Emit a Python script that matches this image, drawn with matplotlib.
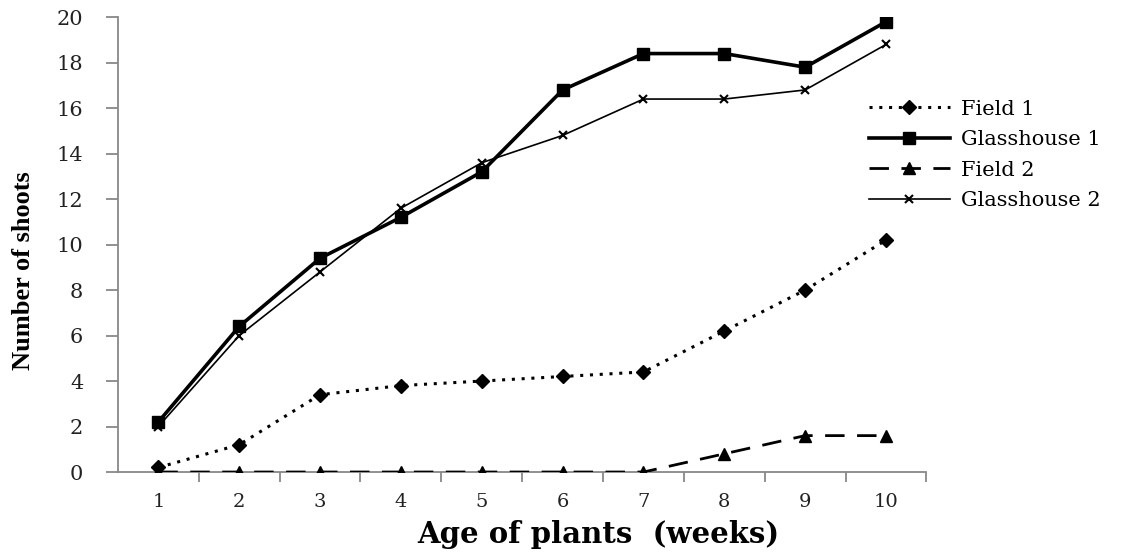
import matplotlib
matplotlib.use("Agg")
import matplotlib.pyplot as plt
from matplotlib.ticker import FixedLocator

weeks = [1, 2, 3, 4, 5, 6, 7, 8, 9, 10]
field1 = [0.2, 1.2, 3.4, 3.8, 4.0, 4.2, 4.4, 6.2, 8.0, 10.2]
glass1 = [2.2, 6.4, 9.4, 11.2, 13.2, 16.8, 18.4, 18.4, 17.8, 19.8]
field2 = [0.0, 0.0, 0.0, 0.0, 0.0, 0.0, 0.0, 0.8, 1.6, 1.6]
glass2 = [2.0, 6.0, 8.8, 11.6, 13.6, 14.8, 16.4, 16.4, 16.8, 18.8]
yticks = [0, 2, 4, 6, 8, 10, 12, 14, 16, 18, 20]

plt.rcParams['font.family'] = ['DejaVu Serif']

fig = plt.figure(figsize=(11.23, 5.54), dpi=100)
ax = fig.add_axes([0.105, 0.148, 0.72, 0.821])

ax.plot(weeks, field1, color='black', linestyle=(0, (1, 2.2)), lw=2.2,
        marker='D', markersize=7, label='Field 1', zorder=3)
ax.plot(weeks, glass1, color='black', linestyle='-', lw=2.6,
        marker='s', markersize=9, label='Glasshouse 1', zorder=4)
ax.plot(weeks, field2, color='black', linestyle=(0, (7, 4.5)), lw=2.0,
        marker='^', markersize=9, label='Field 2', zorder=3)
ax.plot(weeks, glass2, color='black', linestyle='-', lw=1.2,
        marker='x', markersize=6, markeredgewidth=1.5, label='Glasshouse 2', zorder=5)

ax.set_xlim(0.5, 10.5)
ax.set_ylim(0, 20)
ax.set_xticks(weeks)
ax.set_xticklabels([str(w) for w in weeks], fontsize=14, color='#222222')
ax.xaxis.set_minor_locator(FixedLocator([1.5 + i for i in range(10)]))
ax.tick_params(axis='x', which='major', length=0, pad=15)
ax.tick_params(axis='x', which='minor', length=7, width=1.3, color='#888888', direction='out')
ax.set_yticks(yticks)
ax.set_yticklabels([str(v) for v in yticks], fontsize=15, color='#222222')
ax.tick_params(axis='y', length=9, width=1.3, color='#888888', pad=16)

for s in ['top', 'right']:
    ax.spines[s].set_visible(False)
for s in ['left', 'bottom']:
    ax.spines[s].set_color('#888888')
    ax.spines[s].set_linewidth(1.3)

ax.set_ylabel('Number of shoots', fontsize=19, fontweight='bold',
              family=['Liberation Serif'])
ax.yaxis.set_label_coords(-0.103, 0.442)

fig.text(0.5325, 0.0199, 'Age of plants  (weeks)', fontsize=21, fontweight='bold',
         ha='center', va='baseline')

leg = fig.legend(loc='upper left', bbox_to_anchor=(0.757, 0.854), frameon=False,
                 fontsize=15, handlelength=3.9, labelspacing=0.55, handletextpad=0.5)

fig.savefig('out.png', dpi=100)
